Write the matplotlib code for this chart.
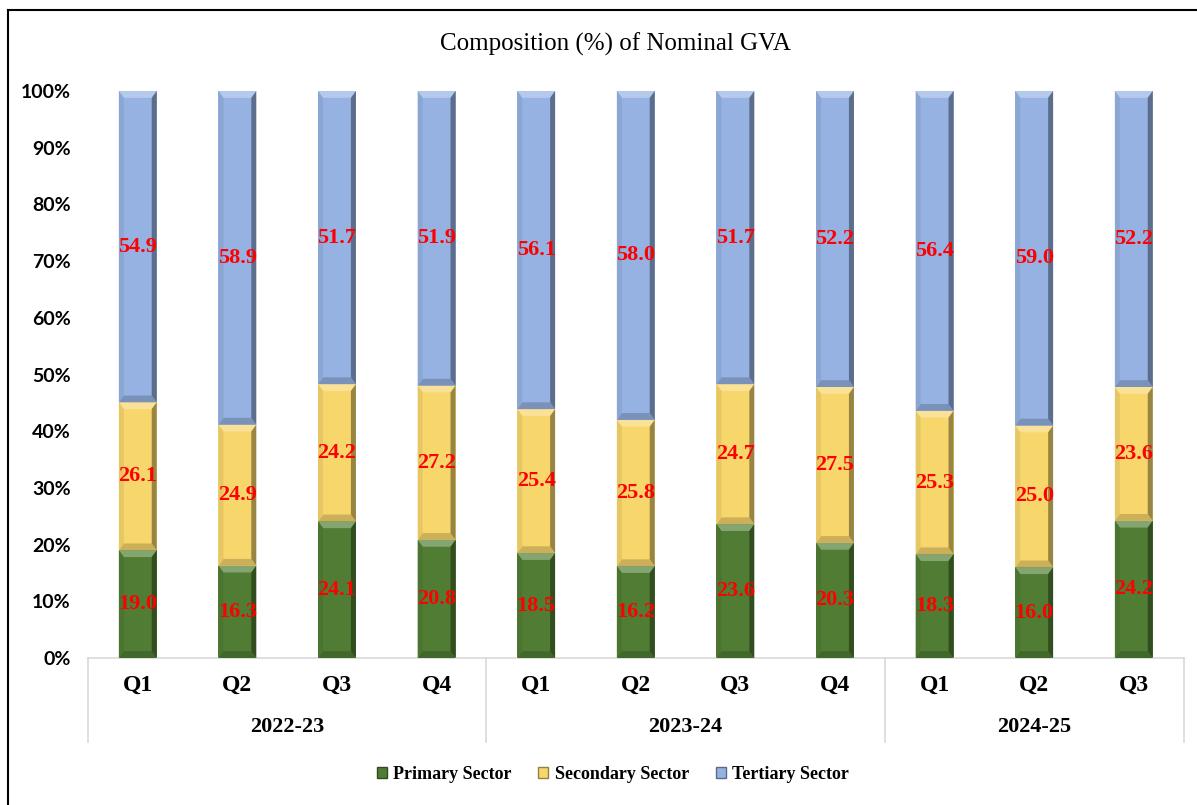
import numpy as np
import matplotlib; matplotlib.use('Agg')
import matplotlib.pyplot as plt
from matplotlib.patches import Polygon, Patch
from matplotlib.lines import Line2D
from matplotlib.colors import to_rgb
import matplotlib.transforms as mtransforms

# ---- data ----
years = ['2022-23', '2023-24', '2024-25']
quarters = ['Q1', 'Q2', 'Q3', 'Q4', 'Q1', 'Q2', 'Q3', 'Q4', 'Q1', 'Q2', 'Q3']
year_sizes = [4, 4, 3]
primary = [19.0, 16.3, 24.1, 20.8, 18.5, 16.2, 23.6, 20.3, 18.3, 16.0, 24.2]
secondary = [26.1, 24.9, 24.2, 27.2, 25.4, 25.8, 24.7, 27.5, 25.3, 25.0, 23.6]
tertiary = [54.9, 58.9, 51.7, 51.9, 56.1, 58.0, 51.7, 52.2, 56.4, 59.0, 52.2]
sectors = ['Primary Sector', 'Secondary Sector', 'Tertiary Sector']
colors = ['#507d33', '#f7d66c', '#95b2e2']

SERIF = ['Liberation Serif', 'DejaVu Serif']
SANS = ['Lato', 'DejaVu Sans']


def shade(c, f):
    r = np.array(to_rgb(c))
    if f >= 0:
        return tuple(r + (1 - r) * f)
    return tuple(r * (1 + f))


fig = plt.figure(figsize=(11.97, 8.05), dpi=100)
ax = fig.add_axes([0.0735, 0.1826, 0.9153, 0.7043])

x = np.arange(len(quarters))
data = np.array([primary, secondary, tertiary])
pct = data / data.sum(axis=0) * 100
width = 0.38
bx, by = 0.05, 1.2

bottom = np.zeros(len(x))
for vals, raw, col in zip(pct, data, colors):
    ax.bar(x, vals, width, bottom=bottom, color=col, edgecolor='none', zorder=2)
    for xi, b, v, r in zip(x, bottom, vals, raw):
        l, rr, t = xi - width / 2, xi + width / 2, b + v
        # bevel faces
        faces = [
            ([(l, t), (rr, t), (rr - bx, t - by), (l + bx, t - by)], 0.3),
            ([(l, b), (rr, b), (rr - bx, b + by), (l + bx, b + by)], -0.18),
            ([(l, b), (l + bx, b + by), (l + bx, t - by), (l, t)], -0.07),
            ([(rr, b), (rr - bx, b + by), (rr - bx, t - by), (rr, t)], -0.38),
        ]
        for pts, f in faces:
            ax.add_patch(Polygon(pts, closed=True, color=shade(col, f), lw=0, zorder=3))
        ax.text(xi, b + v / 2, f'{r:.1f}', ha='center', va='center', color='red',
                fontsize=16, fontweight='bold', family=SERIF, zorder=4)
    bottom += vals

ax.set_xlim(-0.5, len(x) - 0.5)
ax.set_ylim(0, 100)
ax.set_yticks(np.arange(0, 101, 10))
ax.set_yticklabels([f'{v}%' for v in range(0, 101, 10)], family=SANS,
                   fontsize=14, fontweight='bold')
ax.tick_params(axis='y', length=0, pad=12.5)
ax.set_xticks([])
for s in ['top', 'right', 'left']:
    ax.spines[s].set_visible(False)
ax.spines['bottom'].set_color('#d9d9d9')
ax.spines['bottom'].set_linewidth(1.2)

trans = mtransforms.blended_transform_factory(ax.transData, ax.transAxes)
for xi, q in zip(x, quarters):
    ax.text(xi, -0.048, q, transform=trans, ha='center', va='center',
            fontsize=17, fontweight='bold', family=SERIF)

edges = np.concatenate([[0], np.cumsum(year_sizes)]) - 0.5
for e in edges:
    ax.plot([e, e], [0, -0.148], transform=trans, color='#d9d9d9', lw=1.2,
            clip_on=False)
for y, a, b in zip(years, edges[:-1], edges[1:]):
    ax.text((a + b) / 2, -0.122, y, transform=trans, ha='center', va='center',
            fontsize=16, fontweight='bold', family=SERIF)

fig.text(615 / 1197, 1 - 44 / 805, 'Composition (%) of Nominal GVA', ha='center',
         va='center', fontsize=18, family=SERIF)

handles = [Patch(facecolor=c, edgecolor=shade(c, -0.4), lw=1) for c in colors]
leg = fig.legend(handles, sectors, loc='center', bbox_to_anchor=(0.512, 1 - 774 / 805),
                 ncol=3, frameon=False, handlelength=0.55, handleheight=0.55,
                 handletextpad=0.35, columnspacing=1.5,
                 prop={'family': SERIF, 'weight': 'bold', 'size': 13})

# figure border (left and top)
bxf, byf = 8 / 1197, 1 - 10 / 805
fig.add_artist(Line2D([bxf, bxf], [0, byf], color='black', lw=1.5))
fig.add_artist(Line2D([bxf, 1], [byf, byf], color='black', lw=1.5))

plt.savefig('out.png', dpi=100)
